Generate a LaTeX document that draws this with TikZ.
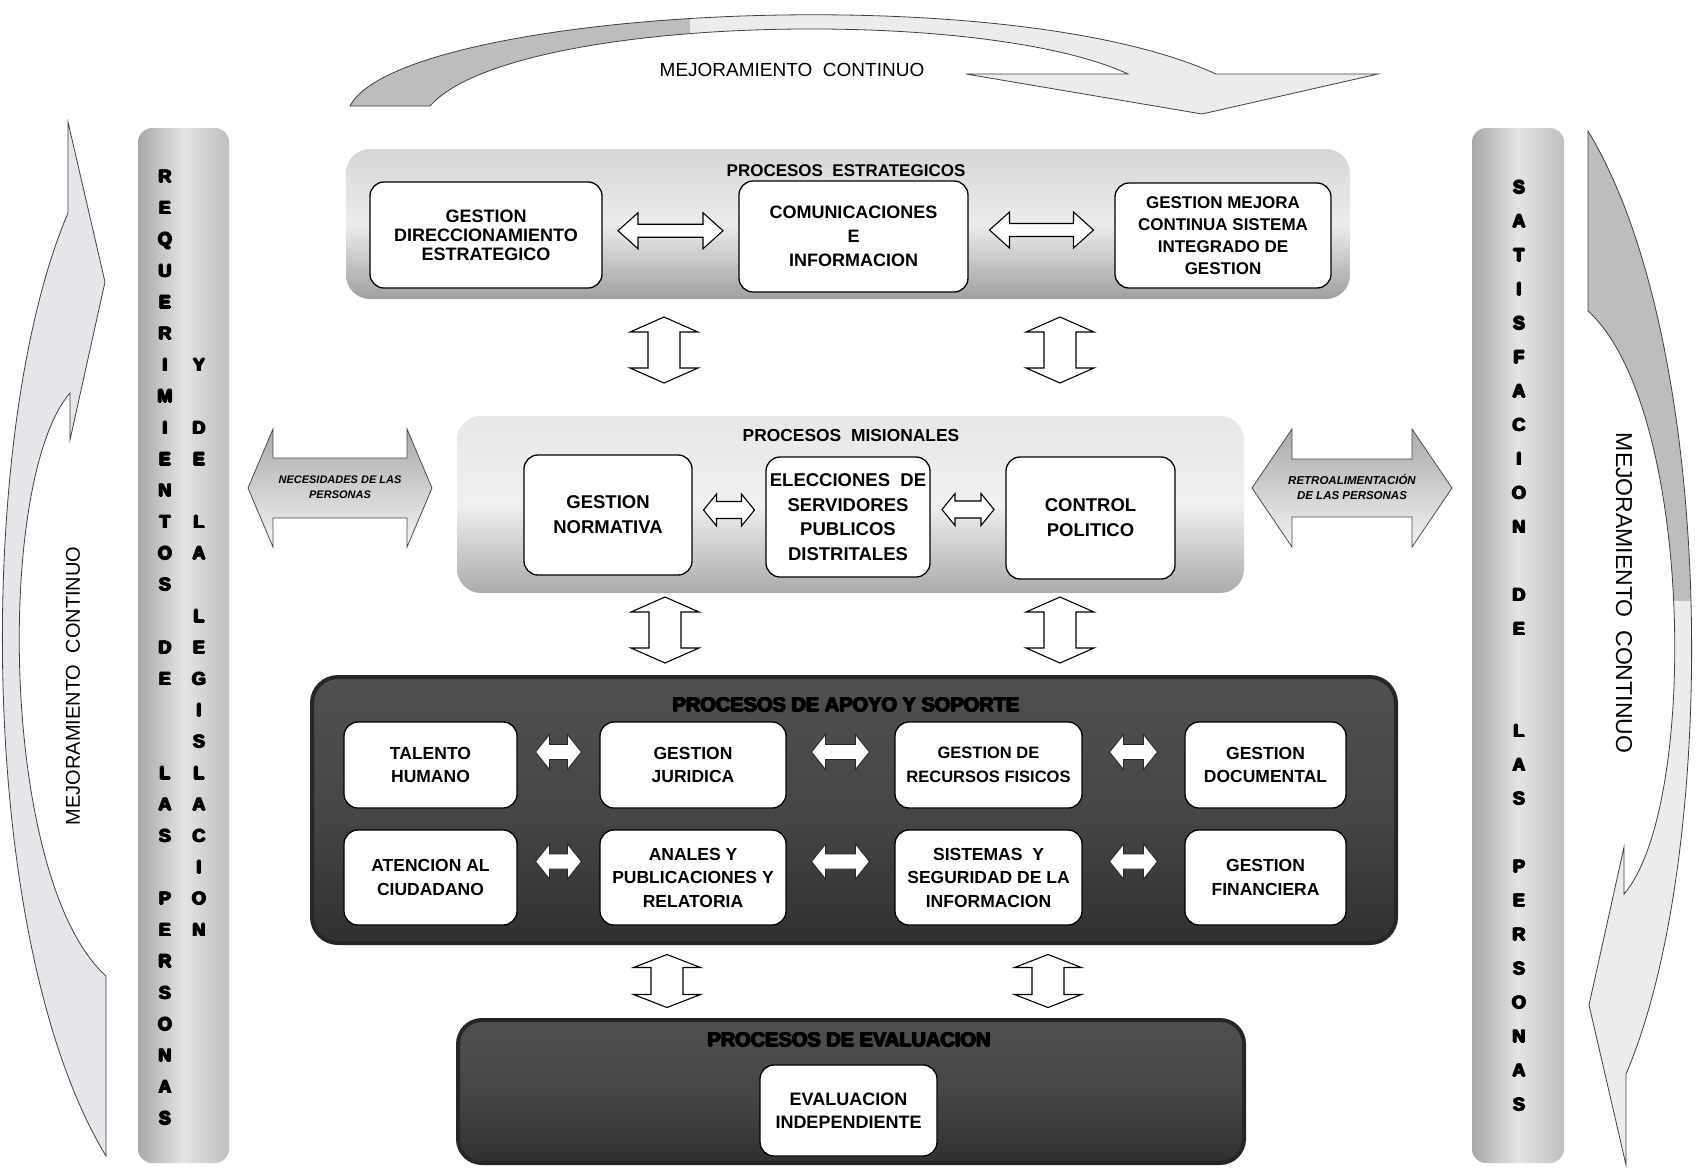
\documentclass[tikz,border=0pt]{standalone}
\usepackage{fontspec}
\setmainfont{Liberation Sans}
\usetikzlibrary{calc}
\newcommand\fsz[2]{\fontsize{#1}{#2}\selectfont}
% heavy text by overprinting the bold face
\newcommand\hv[1]{\leavevmode\rlap{\kern0.8pt #1}\rlap{\kern-0.8pt #1}\rlap{\raisebox{0.7pt}{#1}}\rlap{\raisebox{-0.7pt}{#1}}#1}
\definecolor{arrowlight}{HTML}{ECEBEE}
\definecolor{arrowdark}{HTML}{BDBDBF}
\definecolor{leftarrowc}{HTML}{E8E5EA}
\definecolor{colside}{HTML}{A8A8A8}
\definecolor{colmid}{HTML}{E4E4E4}
\definecolor{colright}{HTML}{BEBEBE}
\definecolor{peTop}{HTML}{D6D6D8}
\definecolor{peMid}{HTML}{ECECEC}
\definecolor{peBot}{HTML}{A0A0A0}
\definecolor{pmTop}{HTML}{E9E6E8}
\definecolor{pmMid}{HTML}{F1EFF0}
\definecolor{pmBot}{HTML}{ABABAB}
\definecolor{paTop}{HTML}{505050}
\definecolor{paMid}{HTML}{464646}
\definecolor{paBot}{HTML}{303030}
\definecolor{paEdge}{HTML}{262626}
\definecolor{sideTop}{HTML}{A9A9A9}
\definecolor{sideBot}{HTML}{F4F4F4}

% horizontal double arrow: style, centre, length, head width, shaft width, head length
\newcommand\harrow[6]{%
\draw[#1] let \p0=(#2) in
 (\x0-#3pt/2,\y0) -- (\x0-#3pt/2+#6pt,\y0+#4pt/2) -- (\x0-#3pt/2+#6pt,\y0+#5pt/2)
 -- (\x0+#3pt/2-#6pt,\y0+#5pt/2) -- (\x0+#3pt/2-#6pt,\y0+#4pt/2) -- (\x0+#3pt/2,\y0)
 -- (\x0+#3pt/2-#6pt,\y0-#4pt/2) -- (\x0+#3pt/2-#6pt,\y0-#5pt/2)
 -- (\x0-#3pt/2+#6pt,\y0-#5pt/2) -- (\x0-#3pt/2+#6pt,\y0-#4pt/2) -- cycle;}
% vertical double arrow: style, centre, length, head width, shaft width, head length
\newcommand\varrow[6]{%
\draw[#1] let \p0=(#2) in
 (\x0,\y0+#3pt/2) -- (\x0+#4pt/2,\y0+#3pt/2-#6pt) -- (\x0+#5pt/2,\y0+#3pt/2-#6pt)
 -- (\x0+#5pt/2,\y0-#3pt/2+#6pt) -- (\x0+#4pt/2,\y0-#3pt/2+#6pt) -- (\x0,\y0-#3pt/2)
 -- (\x0-#4pt/2,\y0-#3pt/2+#6pt) -- (\x0-#5pt/2,\y0-#3pt/2+#6pt)
 -- (\x0-#5pt/2,\y0+#3pt/2-#6pt) -- (\x0-#4pt/2,\y0+#3pt/2-#6pt) -- cycle;}

\tikzset{
 wbox/.style={draw=black, line width=1.3pt, fill=white, rounded corners=14,
   align=center, inner sep=0pt, font=\bfseries\fsz{18}{19}},
 colbox/.style={rounded corners=14, draw=none, left color=colside, right color=colright, middle color=colmid},
 colletter/.style={font=\bfseries\fsz{18}{18}, inner sep=0pt, text height=13pt, text depth=0pt},
 warrow/.style={draw=black, line width=1.1pt, fill=white},
 aarrow/.style={draw=black!85, line width=0.9pt, fill=white},
 sidearrow/.style={draw=black!70, line width=0.8pt, top color=sideTop, bottom color=sideBot},
 curveline/.style={draw=black!75, line width=0.8pt},
 mejora/.style={font=\fsz{19}{20}, inner sep=0pt},
}

\begin{document}
\begin{tikzpicture}[x=1pt,y=-1pt]
\useasboundingbox (0,0) rectangle (1707,1168);
\fill[white] (0,0) rectangle (1707,1168);

% ---------- curved arrows ----------
\path[save path=\toparrowpath] (350,106) .. controls (400,10) and (1000,-25) .. (1216,74)
  -- (1378,74) -- (1202,114) -- (966,74) -- (1128,74)
  .. controls (980,5) and (510,15) .. (430,106) -- cycle;
\path[use path=\toparrowpath, fill=arrowlight];
\begin{scope}
 \clip (0,0) rectangle (690,200);
 \path[use path=\toparrowpath, fill=arrowdark];
\end{scope}
\path[use path=\toparrowpath, curveline];

\path[save path=\leftarrowpath] (68,122) -- (105,282) -- (70,440) -- (70,393)
  .. controls (-5,480) and (0,880) .. (106,976) -- (106,1156)
  .. controls (-25,940) and (-25,430) .. (68,213) -- cycle;
\path[use path=\leftarrowpath, fill=leftarrowc, curveline];

\path[save path=\rightarrowpath] (1626,1165) -- (1589,1005) -- (1624,847) -- (1624,894)
  .. controls (1699,807) and (1694,407) .. (1588,311) -- (1588,131)
  .. controls (1719,347) and (1719,857) .. (1626,1074) -- cycle;
\path[use path=\rightarrowpath, fill=arrowlight];
\begin{scope}
 \clip (1500,0) rectangle (1707,600);
 \path[use path=\rightarrowpath, fill=arrowdark];
\end{scope}
\path[use path=\rightarrowpath, curveline];

\node[mejora] (mcTop) at (792,70) {MEJORAMIENTO~ CONTINUO};
\node[mejora, rotate=90, font=\fsz{20}{20}] (mcLeft) at (73,686) {MEJORAMIENTO~ CONTINUO};
\node[mejora, rotate=-90, font=\fsz{23}{20}] (mcRight) at (1624,593) {MEJORAMIENTO~ CONTINUO};

% ---------- side columns ----------
\node[colbox, minimum width=91, minimum height=1035] (colL) at (183.5,645.5) {};
\node[colbox, minimum width=92, minimum height=1035] (colR) at (1518,645.5) {};
\foreach \ltr [count=\i from 0] in {R,E,Q,U,E,R,I,M,I,E,N,T,O,S,,D,E,,,L,A,S,,P,E,R,S,O,N,A,S}
  \node[colletter] (cla\i) at (165,{176.4+\i*31.39}) {\hv{\ltr}};
\foreach \ltr [count=\i from 6] in {Y,,D,E,,L,A,,L,E,G,I,S,L,A,C,I,O,N}
  \node[colletter] (clb\i) at (199,{176.4+\i*31.39}) {\hv{\ltr}};
\foreach \ltr [count=\i from 0] in {S,A,T,I,S,F,A,C,I,O,N,,D,E,,,L,A,S,,P,E,R,S,O,N,A,S}
  \node[colletter] (cr\i) at (1519,{187+\i*33.97}) {\hv{\ltr}};

% ---------- panels ----------
\node[rounded corners=24, top color=peTop, bottom color=peBot, middle color=peMid,
      minimum width=1004, minimum height=150] (pE) at (848,224) {};
\node[rounded corners=24, top color=pmTop, bottom color=pmBot, middle color=pmMid,
      minimum width=787, minimum height=177] (pM) at (850.5,504.5) {};
\node[rounded corners=26, draw=paEdge, line width=4pt, top color=paTop, bottom color=paBot, middle color=paMid,
      minimum width=1084, minimum height=266] (pA) at (854,810) {};
\node[rounded corners=24, draw=paEdge, line width=4pt, top color=paTop, bottom color=paBot, middle color=paMid,
      minimum width=786, minimum height=143] (pV) at (851,1091.5) {};

\node[font=\bfseries\fsz{17}{17}] (tE) at (846,171) {PROCESOS~ ESTRATEGICOS};
\node[font=\bfseries\fsz{17.4}{17}] (tM) at (851,435) {PROCESOS~ MISIONALES};
\node[font=\bfseries\fsz{20}{20}] (tA) at (846,705) {\hv{PROCESOS DE APOYO Y SOPORTE}};
\node[font=\bfseries\fsz{20}{20}] (tV) at (849,1040) {\hv{PROCESOS DE EVALUACION}};

% ---------- estrategicos ----------
\node[wbox, minimum width=232, minimum height=106] (e1) at (486,235) {GESTION\\DIRECCIONAMIENTO\\ESTRATEGICO};
\node[wbox, minimum width=229, minimum height=111, font=\bfseries\fsz{18}{24}] (e2) at (853.5,236.5) {COMUNICACIONES\\E\\INFORMACION};
\node[wbox, minimum width=216, minimum height=105, font=\bfseries\fsz{17}{21.8}] (e3) at (1223,235.5) {GESTION MEJORA\\CONTINUA SISTEMA\\INTEGRADO DE\\GESTION};
\harrow{warrow}{$(e1.east)!0.5!(e2.west)+(0,-5)$}{105}{36}{13}{20}
\harrow{warrow}{$(e2.east)!0.5!(e3.west)+(0,-6)$}{104}{36}{13}{20}

% ---------- misionales ----------
\node[wbox, minimum width=168, minimum height=120, font=\bfseries\fsz{18.5}{25}] (m1) at (608,515) {GESTION\\NORMATIVA};
\node[wbox, minimum width=164, minimum height=120, font=\bfseries\fsz{18.5}{24.7}] (m2) at (848,517) {ELECCIONES~ DE\\SERVIDORES\\PUBLICOS\\DISTRITALES};
\node[wbox, minimum width=169, minimum height=122, font=\bfseries\fsz{18.5}{25}] (m3) at (1090.5,518) {CONTROL\\POLITICO};
\harrow{warrow}{$(m1.east)!0.5!(m2.west)+(0,-6)$}{51}{32}{17}{13}
\harrow{warrow}{$(m2.east)!0.5!(m3.west)+(0,-8)$}{52}{32}{17}{13}

% ---------- apoyo ----------
\tikzset{abox/.style={wbox, font=\bfseries\fsz{17.5}{23.5}}}
\node[abox, minimum width=173, minimum height=86] (a1) at (430.5,765) {TALENTO\\HUMANO};
\node[abox, minimum width=186, minimum height=86] (a2) at (693,765) {GESTION\\JURIDICA};
\node[abox, minimum width=187, minimum height=86, font=\bfseries\fsz{16.5}{23.5}] (a3) at (988.5,765) {GESTION DE\\RECURSOS FISICOS};
\node[abox, minimum width=161, minimum height=86] (a4) at (1265.5,765) {GESTION\\DOCUMENTAL};
\node[abox, minimum width=173, minimum height=95] (b1) at (430.5,877.5) {ATENCION AL\\CIUDADANO};
\node[abox, minimum width=186, minimum height=95] (b2) at (693,877.5) {ANALES Y\\PUBLICACIONES Y\\RELATORIA};
\node[abox, minimum width=187, minimum height=95] (b3) at (988.5,877.5) {SISTEMAS~ Y\\SEGURIDAD DE LA\\INFORMACION};
\node[abox, minimum width=161, minimum height=95] (b4) at (1265.5,877.5) {GESTION\\FINANCIERA};
\harrow{aarrow}{$(a1.east)!0.5!(a2.west)+(0,-13)$}{46}{35}{15}{14}
\harrow{aarrow}{$(a2.east)!0.5!(a3.west)+(0,-13)$}{58}{35}{15}{14}
\harrow{aarrow}{$(a3.east)!0.5!(a4.west)+(0,-13)$}{48}{35}{15}{14}
\harrow{aarrow}{$(b1.east)!0.5!(b2.west)+(0,-16)$}{46}{35}{15}{14}
\harrow{aarrow}{$(b2.east)!0.5!(b3.west)+(0,-16)$}{58}{35}{15}{14}
\harrow{aarrow}{$(b3.east)!0.5!(b4.west)+(0,-16)$}{48}{35}{15}{14}

% ---------- evaluacion ----------
\node[wbox, minimum width=177, minimum height=91, font=\bfseries\fsz{18}{23}] (v1) at (848.5,1110.5) {EVALUACION\\INDEPENDIENTE};

% ---------- vertical connectors between panels ----------
\coordinate (vEM1) at (664,350);
\coordinate (vEM2) at (1060,350);
\coordinate (vMA1) at (665,630);
\coordinate (vMA2) at (1060,630);
\coordinate (vAV1) at (667,981);
\coordinate (vAV2) at (1048,981);
\varrow{warrow}{vEM1}{66}{68}{32}{15}
\varrow{warrow}{vEM2}{66}{68}{32}{15}
\varrow{warrow}{vMA1}{66}{68}{32}{15}
\varrow{warrow}{vMA2}{66}{68}{32}{15}
\varrow{warrow}{vAV1}{53}{67}{32}{13}
\varrow{warrow}{vAV2}{53}{67}{32}{13}

% ---------- side double arrows ----------
\coordinate (necC) at (340,488);
\coordinate (retC) at (1352,488);
\harrow{sidearrow}{necC}{184}{118}{60}{25}
\harrow{sidearrow}{retC}{200}{118}{58}{40}
\node[font=\bfseries\itshape\fsz{11}{15}, align=center, inner sep=0pt] (necT) at (340,487) {NECESIDADES DE LAS\\PERSONAS};
\node[font=\bfseries\itshape\fsz{11.5}{15}, align=center, inner sep=0pt] (retT) at (1352,487) {RETROALIMENTACIÓN\\DE LAS PERSONAS};
\end{tikzpicture}
\end{document}
